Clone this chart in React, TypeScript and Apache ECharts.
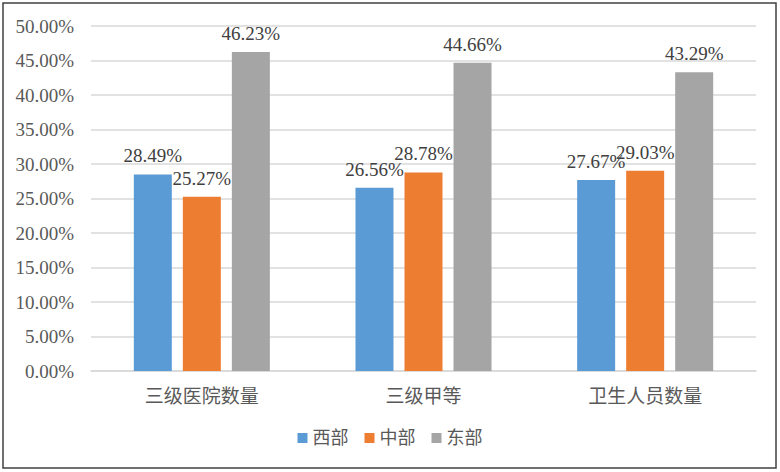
import React, { useEffect, useRef } from "react";
import * as echarts from "echarts";

const categories = ["三级医院数量", "三级甲等", "卫生人员数量"];
const seriesNames = ["西部", "中部", "东部"];
const west = [28.49, 26.56, 27.67];
const central = [25.27, 28.78, 29.03];
const east = [46.23, 44.66, 43.29];
const colors = ["#5B9BD5", "#ED7D31", "#A5A5A5"];

const FONT = "Liberation Serif, Times New Roman, Noto Sans CJK SC, serif";

export default function App() {
  const ref = useRef<HTMLDivElement>(null);
  useEffect(() => {
    document.body.style.margin = "0";
    const chart = echarts.init(ref.current!, undefined, { renderer: "svg" });
    const data = [west, central, east];
    chart.setOption({
      animation: false,
      backgroundColor: "#ffffff",
      textStyle: { fontFamily: FONT },
      graphic: [
        {
          type: "rect",
          shape: { x: 3, y: 3, width: 773, height: 465 },
          style: { fill: "none", stroke: "#404040", lineWidth: 1.5 },
          silent: true,
        },
      ],
      grid: { left: 91, right: 24, top: 26, bottom: 101 },
      legend: {
        data: seriesNames,
        bottom: 20,
        left: "center",
        itemWidth: 10,
        itemHeight: 10,
        itemGap: 16,
        icon: "rect",
        textStyle: { fontFamily: FONT, fontSize: 18, color: "#595959" },
      },
      xAxis: {
        type: "category",
        data: categories,
        axisLine: { lineStyle: { color: "#d9d9d9", width: 1.5 } },
        axisTick: { show: false },
        axisLabel: { fontFamily: FONT, fontSize: 19, color: "#595959", margin: 16 },
      },
      yAxis: {
        type: "value",
        min: 0,
        max: 50,
        interval: 5,
        axisLine: { show: false },
        axisTick: { show: false },
        splitLine: { lineStyle: { color: "#d9d9d9", width: 1.5 } },
        axisLabel: {
          fontFamily: FONT,
          fontSize: 19,
          color: "#595959",
          margin: 17,
          formatter: (v: number) => v.toFixed(2) + "%",
        },
      },
      series: seriesNames.map((name, i) => ({
        name,
        type: "bar",
        data: data[i],
        barWidth: 38,
        barGap: "29%",
        itemStyle: { color: colors[i] },
        label: {
          show: true,
          position: "top",
          distance: 9,
          fontFamily: FONT,
          fontSize: 19,
          color: "#404040",
          formatter: (p: any) => p.value.toFixed(2) + "%",
        },
      })),
    });
    return () => chart.dispose();
  }, []);
  return <div ref={ref} style={{ width: 780, height: 472 }} />;
}
